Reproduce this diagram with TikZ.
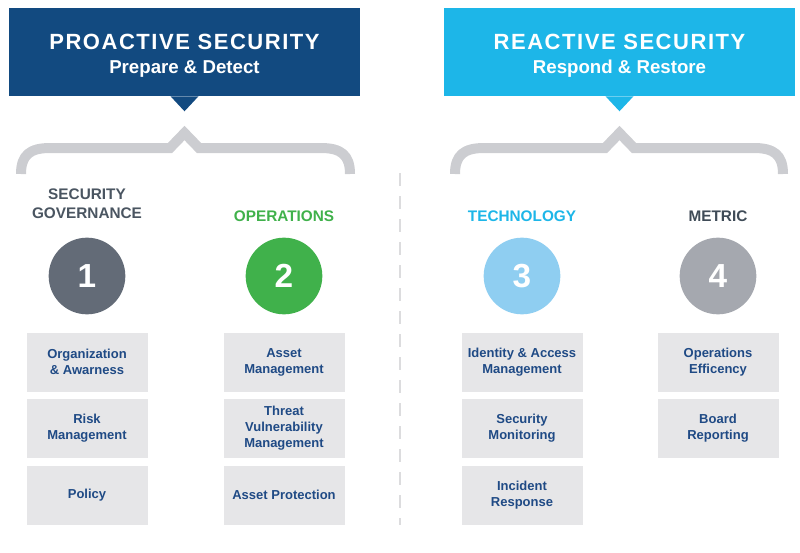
\documentclass[tikz,border=0pt]{standalone}
\usepackage{fontspec}
\setmainfont{Liberation Sans}
\usepackage{tikz}
\usetikzlibrary{positioning}
\definecolor{navy}{HTML}{124A80}
\definecolor{cyan}{HTML}{1DB6E8}
\definecolor{brc}{HTML}{CCCDD1}
\definecolor{dash}{HTML}{DCDCDE}
\definecolor{boxbg}{HTML}{E6E6E8}
\definecolor{itemtxt}{HTML}{1F4A85}
\definecolor{slate}{HTML}{4A5561}
\definecolor{slate2}{HTML}{3F4B57}
\definecolor{green}{HTML}{40B14B}
\definecolor{c1}{HTML}{636B77}
\definecolor{c3}{HTML}{8FCEF1}
\definecolor{c4}{HTML}{A5A8AF}

\begin{document}
\begin{tikzpicture}[x=0.75pt, y=-0.75pt,
  hdr/.style={rectangle, minimum width=263.25pt, minimum height=66pt, inner sep=0pt},
  hdrtxt/.style={text=white, align=center, inner sep=0pt, font=\bfseries\fontsize{14}{18}\selectfont},
  brace/.style={draw=brc, line width=7.5pt, line join=miter},
  head/.style={align=center, inner sep=0pt, font=\bfseries\fontsize{11.5}{14.25}\selectfont},
  num/.style={circle, minimum size=57.5pt, inner sep=0pt, text=white, font=\bfseries\fontsize{25}{25}\selectfont},
  item/.style={rectangle, fill=boxbg, draw=white, line width=0.5pt, minimum width=91.5pt, minimum height=45pt, inner sep=0pt, align=center, text=itemtxt, font=\bfseries\fontsize{9.75}{12}\selectfont},
  divider/.style={draw=dash, line width=0.8pt, dash pattern=on 9.75pt off 7.5pt},
]
\useasboundingbox (0,0) rectangle (800,553);
% headers
\node[hdr, fill=navy] (pro) at (184.5,52) {};
\node[hdr, fill=cyan] (rea) at (619.5,52) {};
\node[hdrtxt] (protxt) at (184.5,55.5) {{\addfontfeature{LetterSpace=7}\fontsize{16.5}{18}\selectfont PROACTIVE SECURITY}\\Prepare \& Detect};
\node[hdrtxt] (reatxt) at (619.5,55.5) {{\addfontfeature{LetterSpace=7}\fontsize{16.5}{18}\selectfont REACTIVE SECURITY}\\Respond \& Restore};
\fill[navy] (pro.south) ++(-14,0) -- ++(14,15) -- ++(14,-15) -- cycle;
\fill[cyan] (rea.south) ++(-14,0) -- ++(14,15) -- ++(14,-15) -- cycle;
% braces
\draw[brace] (21,174) .. controls (21,155) and (30,148) .. (50,148) -- (170,148) -- (184.5,133) -- (199,148) -- (321,148) .. controls (341,148) and (350,155) .. (350,174);
\draw[brace] (455,174) .. controls (455,155) and (464,148) .. (484,148) -- (605,148) -- (619.5,133) -- (634,148) -- (754,148) .. controls (774,148) and (783,155) .. (783,174);
\draw[divider] (400,173) -- (400,525);
% columns
\node[head, text=slate] (gov) at (87,203.5) {SECURITY\\GOVERNANCE};
\node[head, text=green] (ops) at (284,216.5) {OPERATIONS};
\node[head, text=cyan] (tech) at (522,216.5) {TECHNOLOGY};
\node[head, text=slate2] (met) at (718,216.5) {METRIC};
\node[num, fill=c1] (n1) at (87,276) {1};
\node[num, fill=green] (n2) at (284,276) {2};
\node[num, fill=c3] (n3) at (522,276) {3};
\node[num, fill=c4] (n4) at (718,276) {4};
% items
\node[item] (org) at (87,362) {Organization\\\& Awarness};
\node[item] (risk) at (87,428.5) {Risk\\Management};
\node[item] (pol) at (87,495) {Policy};
\node[item] (asm) at (284,362) {Asset\\Management};
\node[item] (tvm) at (284,428.5) {Threat\\Vulnerability\\Management};
\node[item] (apr) at (284,495) {Asset Protection};
\node[item] (iam) at (522,362) {Identity \& Access\\Management};
\node[item] (mon) at (522,428.5) {Security\\Monitoring};
\node[item] (inc) at (522,495) {Incident\\Response};
\node[item] (eff) at (718,362) {Operations\\Efficency};
\node[item] (brd) at (718,428.5) {Board\\Reporting};
\end{tikzpicture}
\end{document}
